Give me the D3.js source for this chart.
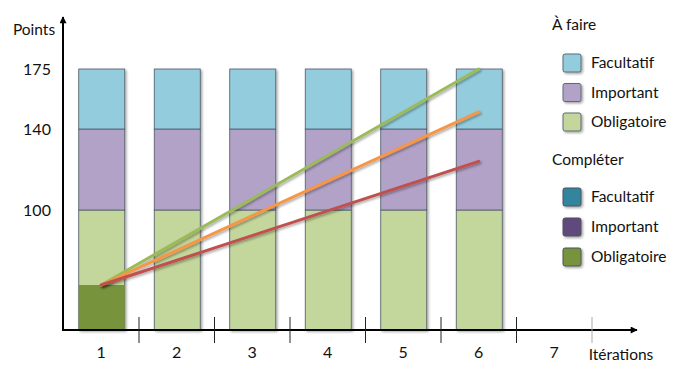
<!DOCTYPE html>
<html><head><meta charset="utf-8">
<script src="https://cdn.jsdelivr.net/npm/d3@7/dist/d3.min.js"></script>
<style>body{margin:0;background:#fff}svg{display:block;font-family:Lato,"Open Sans",sans-serif}</style>
</head><body><svg id="c" width="680" height="373"></svg>
<script>
// ---- data ----
const iterations = ["1","2","3","4","5","6","7"];
const yTicks = [100, 140, 175];
const todoObligatoire = [100, 100, 100, 100, 100, 100];
const todoImportant   = [40, 40, 40, 40, 40, 40];
const todoFacultatif  = [35, 35, 35, 35, 35, 35];
const doneObligatoire = [37.5, 0, 0, 0, 0, 0];
const doneImportant   = [0, 0, 0, 0, 0, 0];
const doneFacultatif  = [0, 0, 0, 0, 0, 0];
const trendNames  = ["vert", "orange", "rouge"];
const trendStart  = [37.5, 37.5, 37.5];
const trendEnd    = [175, 150, 124];
const trendFromIt = "1", trendToIt = "6";
const legendTodo = ["Facultatif", "Important", "Obligatoire"];
const legendDone = ["Facultatif", "Important", "Obligatoire"];

// ---- styles ----
const colTodo = {Facultatif:"#93CDDD", Important:"#B3A2C7", Obligatoire:"#C3D69B"};
const colDone = {Facultatif:"#31859C", Important:"#604A7B", Obligatoire:"#77933C"};
const trendCol = ["#9BBB59", "#F79646", "#C0504D"];
const FS = 15.5;

const svg = d3.select("#c");
const defs = svg.append("defs");
const f = defs.append("filter").attr("id","sh").attr("x","-10%").attr("y","-10%").attr("width","130%").attr("height","130%");
f.append("feDropShadow").attr("dx",1.5).attr("dy",1.5).attr("stdDeviation",1.2).attr("flood-color","#000").attr("flood-opacity",0.35);
const mk = defs.append("marker").attr("id","arr").attr("viewBox","0 0 10 10").attr("refX",9).attr("refY",5)
  .attr("orient","auto-start-reverse").attr("markerUnits","userSpaceOnUse")
  .attr("markerWidth",9).attr("markerHeight",7);
mk.append("path").attr("d","M0,0L10,5L0,10z").attr("fill","#000");

const x = d3.scaleBand().domain(iterations).range([63.5, 592]).padding(0);
const barW = 46;
const y = d3.scaleLinear().domain([0, 100, 140, 175]).range([330, 210, 129, 69]);

// bars
const bars = svg.append("g");
iterations.slice(0, 6).forEach((it, i) => {
  const bx = x(it) + (x.bandwidth() - barW) / 2 + 0.5;
  const segs = [
    {v0:0, v1:todoObligatoire[i], c:colTodo.Obligatoire},
    {v0:todoObligatoire[i], v1:todoObligatoire[i]+todoImportant[i], c:colTodo.Important},
    {v0:todoObligatoire[i]+todoImportant[i], v1:todoObligatoire[i]+todoImportant[i]+todoFacultatif[i], c:colTodo.Facultatif}
  ];
  const g = bars.append("g").attr("filter","url(#sh)");
  segs.forEach(s => g.append("rect").attr("x", bx).attr("width", barW)
    .attr("y", y(s.v1)).attr("height", y(s.v0) - y(s.v1))
    .attr("fill", s.c).attr("stroke", "#4d5b66").attr("stroke-width", 0.8));
  const dn = [
    {v0:0, v1:doneObligatoire[i], c:colDone.Obligatoire},
    {v0:doneObligatoire[i], v1:doneObligatoire[i]+doneImportant[i], c:colDone.Important},
    {v0:doneObligatoire[i]+doneImportant[i], v1:doneObligatoire[i]+doneImportant[i]+doneFacultatif[i], c:colDone.Facultatif}
  ];
  dn.filter(s => s.v1 > s.v0).forEach(s => bars.append("rect").attr("x", bx).attr("width", barW)
    .attr("y", y(s.v1)).attr("height", y(s.v0) - y(s.v1)).attr("fill", s.c));
});

// trend lines
const cx = it => x(it) + x.bandwidth() / 2;
trendNames.forEach((n, k) => {
  svg.append("line").attr("x1", cx(trendFromIt)).attr("y1", y(trendStart[k]))
    .attr("x2", cx(trendToIt)).attr("y2", y(trendEnd[k]))
    .attr("stroke", trendCol[k]).attr("stroke-width", 3).attr("stroke-linecap","round")
    .attr("filter","url(#sh)");
});

// axes
svg.append("line").attr("x1", 63).attr("y1", 331).attr("x2", 63).attr("y2", 17)
  .attr("stroke", "#000").attr("stroke-width", 2).attr("marker-end","url(#arr)");
svg.append("line").attr("x1", 62).attr("y1", 330).attr("x2", 637).attr("y2", 330)
  .attr("stroke", "#000").attr("stroke-width", 2).attr("marker-end","url(#arr)");
// separator ticks
iterations.forEach((it, i) => {
  const bx = x(it) + x.bandwidth();
  svg.append("line").attr("x1", bx).attr("x2", bx).attr("y1", 317).attr("y2", 343)
    .attr("stroke", i === iterations.length - 1 ? "#aaa" : "#222").attr("stroke-width", 1);
  svg.append("text").attr("x", cx(it)).attr("y", 358).attr("text-anchor","middle")
    .attr("font-size", 16).attr("fill","#111").text(it);
});
svg.append("text").attr("x", 621).attr("y", 360).attr("text-anchor","middle").attr("font-size",FS).attr("fill","#111").text("Itérations");
yTicks.forEach(t => svg.append("text").attr("x", 37).attr("y", y(t) + 5.5).attr("text-anchor","middle")
  .attr("font-size", 16).attr("fill","#111").text(t));
svg.append("text").attr("x", 34).attr("y", 35).attr("text-anchor","middle").attr("font-size",FS).attr("fill","#111").text("Points");

// legend
const lg = svg.append("g");
lg.append("text").attr("x", 552).attr("y", 30).attr("font-size", FS).attr("fill","#111").text("À faire");
legendTodo.forEach((n, i) => {
  const yy = 54 + i * 29.5;
  lg.append("rect").attr("x", 563).attr("y", yy).attr("width", 18).attr("height", 18).attr("rx", 2)
    .attr("fill", colTodo[n]).attr("stroke","#5c6b75").attr("stroke-width",1).attr("filter","url(#sh)");
  lg.append("text").attr("x", 591).attr("y", yy + 14).attr("font-size", FS).attr("fill","#111").text(n);
});
lg.append("text").attr("x", 552).attr("y", 165).attr("font-size", FS).attr("fill","#111").text("Compléter");
legendDone.forEach((n, i) => {
  const yy = 188 + i * 30;
  lg.append("rect").attr("x", 563).attr("y", yy).attr("width", 18).attr("height", 18).attr("rx", 2)
    .attr("fill", colDone[n]).attr("stroke","#4a5560").attr("stroke-width",1).attr("filter","url(#sh)");
  lg.append("text").attr("x", 591).attr("y", yy + 14).attr("font-size", FS).attr("fill","#111").text(n);
});
</script></body></html>
